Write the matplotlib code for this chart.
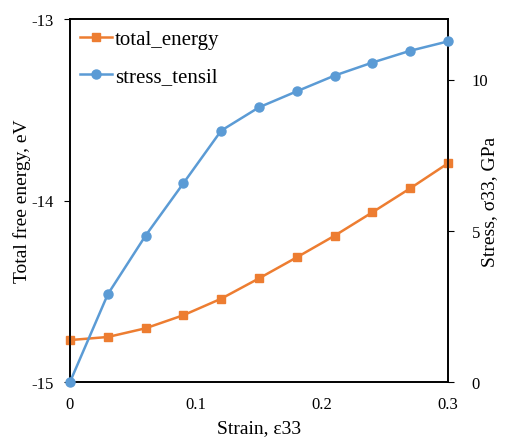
import matplotlib
matplotlib.use("Agg")
import matplotlib.pyplot as plt

plt.rcParams['font.family'] = ['Liberation Serif', 'DejaVu Serif']
plt.rcParams['axes.unicode_minus'] = False

strain = [0.0, 0.03, 0.06, 0.09, 0.12, 0.15, 0.18, 0.21, 0.24, 0.27, 0.30]
total_energy = [-14.769, -14.752, -14.704, -14.632, -14.541, -14.429, -14.313, -14.194, -14.065, -13.933, -13.795]
stress_tensil = [0.0, 2.90, 4.84, 6.57, 8.31, 9.08, 9.61, 10.13, 10.56, 10.95, 11.26]

x_ticks = [0, 0.1, 0.2, 0.3]
x_labels = ['0', '0.1', '0.2', '0.3']
left_ticks = [-15, -14, -13]
right_ticks = [0, 5, 10]

orange = '#ED7D31'
blue = '#5B9BD5'

fig = plt.figure(figsize=(5.12, 4.39), dpi=100)
ax = fig.add_axes([70/512, 1-383/439, (448-70)/512, (383-20)/439])
ax2 = ax.twinx()

l1, = ax.plot(strain, total_energy, color=orange, marker='s', markersize=5.5, linewidth=1.8, label='total_energy', clip_on=False, zorder=3)
l2, = ax2.plot(strain, stress_tensil, color=blue, marker='o', markersize=6.5, linewidth=1.8, label='stress_tensil', clip_on=False, zorder=3)

ax.set_xlim(0, 0.3)
ax.set_ylim(-15, -13)
ax2.set_ylim(0, 12)
ax.set_xticks(x_ticks)
ax.set_xticklabels(x_labels)
ax.set_yticks(left_ticks)
ax2.set_yticks(right_ticks)

ax.tick_params(axis='x', length=0, pad=10, labelsize=12)
ax.tick_params(axis='y', direction='out', length=4, labelsize=12, pad=8)
ax2.tick_params(axis='y', direction='out', length=4, labelsize=12, pad=13)

for a in (ax, ax2):
    for s in a.spines.values():
        s.set_linewidth(1.2)
        s.set_color('black')

ax.set_xlabel('Strain, ε33', fontsize=14)
ax.set_ylabel('Total free energy, eV', fontsize=14)
ax2.set_ylabel('Stress, σ33, GPa', fontsize=14, rotation=90)
ax.xaxis.set_label_coords(0.5, -0.125)
ax.yaxis.set_label_coords(-0.127, 0.5)
ax2.yaxis.set_label_coords(1.11, 0.5)
ax2.yaxis.label.set_va('center')
ax.yaxis.label.set_va('center')
ax.xaxis.label.set_va('center')

ax.legend(handles=[l1, l2], loc='upper left', frameon=False, fontsize=15,
          handlelength=1.5, handletextpad=0.15, labelspacing=0.85,
          borderaxespad=0.0, borderpad=0.5, bbox_to_anchor=(0.0, 1.0))

fig.savefig('out.png', dpi=100)
